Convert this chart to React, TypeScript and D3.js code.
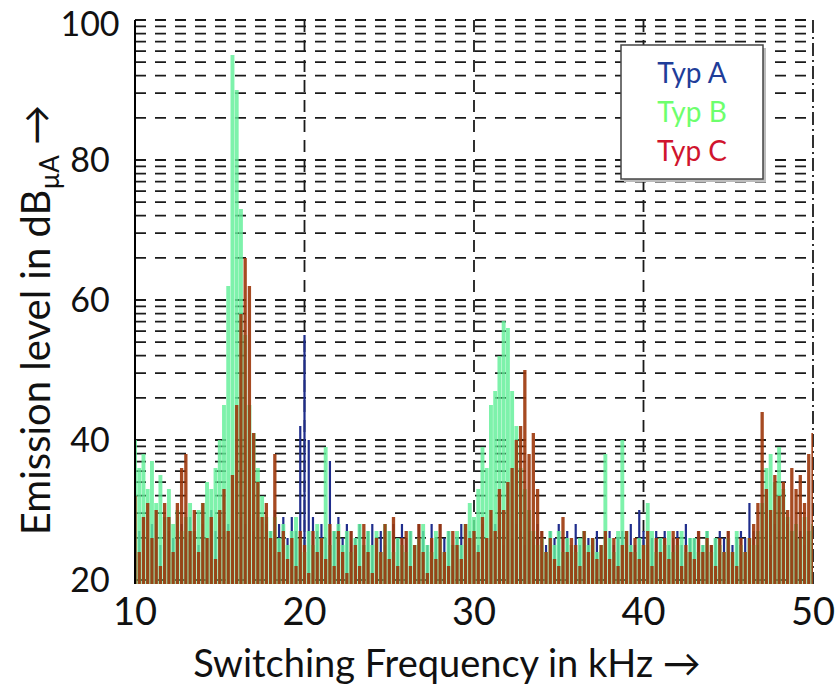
import React from 'react';
import * as d3 from 'd3';

// Frequency grid: 10 kHz .. 50 kHz, step 0.25 kHz
const F_START = 10;
const F_STEP = 0.25;

// Emission levels in dBµA
const typA = [
  30, 27, 29, 26, 28, 30, 25, 29, 27, 26, 29, 28, 26, 29, 27, 25,
  28, 26, 30, 27, 29, 27, 28, 26, 27, 29, 28, 30, 27, 29, 26, 28,
  27, 30, 28, 29, 26, 29, 27, 42, 55, 40, 29, 27, 28, 26, 37, 27,
  29, 26, 28, 27, 26, 28, 25, 27, 28, 26, 27, 25, 27, 28, 26, 28,
  26, 27, 25, 28, 27, 25, 28, 26, 28, 26, 27, 25, 26, 28, 25, 27,
  27, 25, 28, 26, 26, 28, 27, 25, 27, 26, 28, 27, 25, 27, 26, 28,
  27, 25, 27, 26, 28, 26, 27, 25, 28, 25, 27, 26, 26, 27, 25, 27,
  27, 25, 26, 27, 26, 28, 25, 30, 27, 25, 26, 27, 26, 27, 25, 26,
  27, 25, 28, 26, 26, 27, 25, 27, 25, 26, 27, 26, 27, 25, 26, 27,
  26, 31, 27, 25, 26, 27, 25, 28, 27, 26, 28, 27, 26, 27, 25, 27,
  26,
];

const typB = [
  40, 36, 38, 33, 37, 31, 35, 29, 33, 28, 30, 27, 29, 31, 27, 30,
  31, 34, 33, 36, 40, 45, 62, 95, 90, 73, 55, 45, 41, 36, 32, 29,
  27, 29, 26, 28, 25, 27, 29, 26, 24, 27, 25, 28, 26, 39, 25, 27,
  28, 25, 27, 24, 26, 28, 25, 27, 25, 27, 24, 28, 27, 24, 26, 25,
  24, 27, 25, 26, 28, 25, 24, 27, 26, 24, 27, 25, 27, 25, 28, 31,
  29, 33, 39, 36, 45, 47, 52, 57, 56, 47, 42, 36, 33, 30, 27, 25,
  26, 24, 27, 25, 27, 24, 26, 25, 24, 26, 27, 25, 26, 24, 25, 38,
  26, 24, 27, 40, 27, 25, 24, 26, 25, 31, 27, 24, 26, 25, 27, 24,
  25, 27, 24, 26, 26, 24, 25, 27, 24, 26, 25, 24, 26, 24, 27, 25,
  24, 26, 25, 27, 31, 36, 38, 34, 39, 33, 29, 27, 28, 26, 29, 27,
  28,
];

const typC = [
  32, 24, 29, 31, 26, 30, 22, 31, 29, 24, 31, 36, 38, 27, 30, 24,
  31, 26, 29, 23, 30, 33, 27, 35, 45, 58, 66, 62, 41, 34, 29, 31,
  26, 38, 24, 27, 23, 26, 22, 27, 25, 21, 27, 24, 26, 23, 28, 22,
  27, 24, 21, 27, 25, 22, 28, 24, 21, 26, 24, 28, 23, 29, 22, 26,
  27, 22, 25, 28, 24, 21, 26, 23, 28, 24, 22, 27, 25, 23, 28, 26,
  27, 24, 29, 26, 30, 27, 33, 30, 34, 36, 40, 42, 50, 38, 41, 33,
  27, 24, 26, 23, 22, 29, 24, 26, 25, 22, 27, 24, 26, 23, 25, 27,
  23, 26, 22, 25, 27, 24, 26, 23, 25, 27, 22, 26, 24, 26, 23, 27,
  26, 22, 25, 24, 23, 27, 24, 26, 25, 22, 26, 24, 27, 24, 22, 26,
  24, 26, 28, 31, 44, 33, 30, 35, 32, 34, 30, 36, 33, 35, 31, 38,
  41,
];

const xTicks = [10, 20, 30, 40, 50];
const yTicks = [20, 40, 60, 80, 100];
const xGridValues = [20, 30, 40];
const legendLabels = ['Typ A', 'Typ B', 'Typ C'];

const FONT = "Lato, 'Open Sans', 'DejaVu Sans', sans-serif";

export default function App() {
  const W = 838;
  const H = 690;
  const x = d3.scaleLinear().domain([10, 50]).range([135, 813]);
  const y = d3.scaleLinear().domain([20, 100]).range([580, 20]);
  const plotLeft = x(10);
  const plotRight = x(50);
  const plotTop = y(100);
  const plotBottom = y(20) + 4;

  // log-style minor grid inside each 20 dB decade
  const minorGrid: number[] = [];
  for (let d = 20; d < 100; d += 20) {
    for (let k = 2; k <= 9; k++) minorGrid.push(d + 20 * Math.log10(k));
  }
  const hGrid = [...yTicks, ...minorGrid];

  const series = [
    { values: typA, color: '#1f2d8c', opacity: 1, width: 2.2 },
    { values: typB, color: '#62ef98', opacity: 0.82, width: 3.9 },
    { values: typC, color: '#9c360a', opacity: 0.9, width: 3.3 },
  ];
  const legendColors = ['#1f3d99', '#6dff6d', '#d0142e'];

  return (
    <svg width={W} height={H} style={{ position: 'absolute', left: 0, top: 0, background: '#fff' }} fontFamily={FONT}>
      <defs>
        <clipPath id="plotClip">
          <rect x={plotLeft} y={plotTop} width={plotRight - plotLeft} height={plotBottom - plotTop} />
        </clipPath>
      </defs>

      {/* horizontal grid */}
      {hGrid.map((v, i) => (
        <line key={'h' + i} x1={plotLeft} x2={plotRight} y1={y(v)} y2={y(v)}
          stroke="#1a1a1a" strokeWidth={1.8} strokeDasharray="11,9" />
      ))}
      {/* vertical grid */}
      {xGridValues.map((v) => (
        <line key={'v' + v} x1={x(v)} x2={x(v)} y1={plotTop} y2={plotBottom}
          stroke="#1a1a1a" strokeWidth={1.8} strokeDasharray="12,8" />
      ))}
      {/* right edge dash-dot */}
      <line x1={plotRight} x2={plotRight} y1={plotTop} y2={plotBottom}
        stroke="#1a1a1a" strokeWidth={1.8} strokeDasharray="13,4,2,4" />

      {/* series */}
      <g clipPath="url(#plotClip)">
        {series.map((s, si) => (
          <g key={'s' + si} fill={s.color} fillOpacity={s.opacity}>
            {s.values.map((v, i) => {
              const f = F_START + i * F_STEP;
              const yy = y(v);
              return (
                <rect key={i} x={x(f) - s.width / 2} y={yy} width={s.width} height={plotBottom - yy} />
              );
            })}
          </g>
        ))}
      </g>

      {/* left axis */}
      <line x1={plotLeft} x2={plotLeft} y1={plotTop} y2={plotBottom} stroke="#000" strokeWidth={2} />

      {/* y tick labels */}
      {yTicks.map((v) => (
        <text key={'yt' + v} x={90} y={Math.max(y(v) + 12, 36)} textAnchor="middle" fontSize={34} fill="#111">{v}</text>
      ))}
      {/* x tick labels */}
      {xTicks.map((v) => (
        <text key={'xt' + v} x={x(v)} y={625} textAnchor="middle" fontSize={38} fill="#111">{v}</text>
      ))}

      {/* axis titles */}
      <text x={447} y={677} textAnchor="middle" fontSize={38} fill="#111">Switching Frequency in kHz →</text>
      <text transform="translate(50,320) rotate(-90)" textAnchor="middle" fontSize={40} fill="#111">
        Emission level in dB<tspan fontSize={26} dy={9}>µA</tspan><tspan dy={-9}> →</tspan>
      </text>

      {/* legend */}
      <rect x={624} y={48} width={142} height={134} fill="#bdbdbd" />
      <rect x={621} y={45} width={142} height={134} fill="#fff" stroke="#444" strokeWidth={1.5} />
      {legendLabels.map((l, i) => (
        <text key={l} x={692} y={83 + i * 39} textAnchor="middle" fontSize={28} fill={legendColors[i]}>{l}</text>
      ))}
    </svg>
  );
}
